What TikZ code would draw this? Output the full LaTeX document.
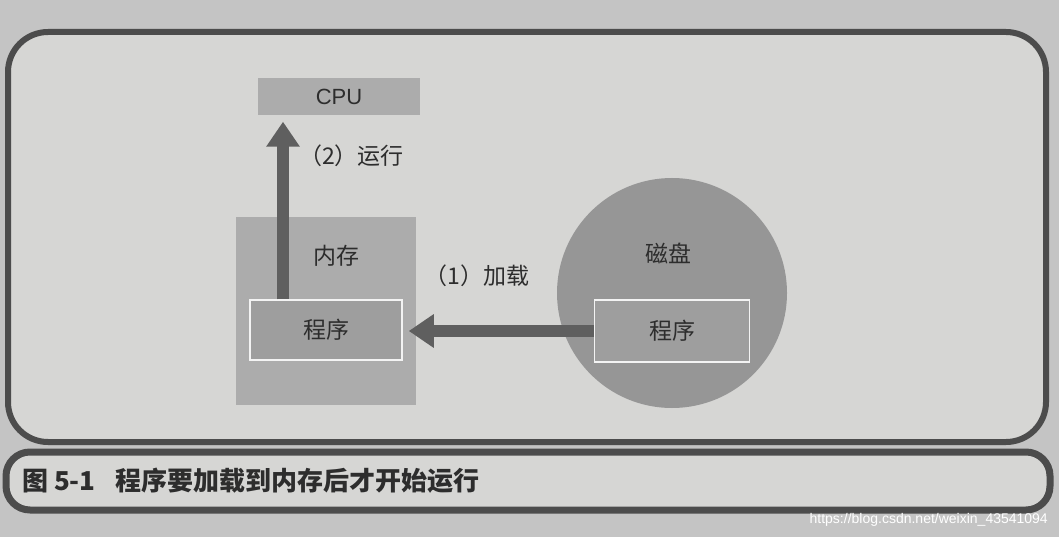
\documentclass[tikz,border=0pt]{standalone}
\usepackage{fontspec}
\setmainfont{Liberation Sans}
\newfontfamily\cjk{Noto Sans CJK SC}
\usetikzlibrary{arrows.meta}
\begin{document}
\begin{tikzpicture}[x=1pt, y=-1pt]

    \definecolor{pagegray}{RGB}{196,196,196}
    \definecolor{panelgray}{RGB}{214,214,212}
    \definecolor{boxgray}{RGB}{172,172,172}
    \definecolor{diskgray}{RGB}{150,150,150}
    \definecolor{arrowgray}{RGB}{95,95,95}
    \definecolor{inkgray}{RGB}{45,45,45}

    \tikzstyle{boxnode} = [fill=boxgray, inner sep=0, text=inkgray, font=\fontsize{23}{26}\selectfont\cjk];
    \tikzstyle{prognode} = [boxnode, draw=white!85!boxgray, line width=1.5, fill=boxgray!92!black];
    \tikzstyle{label} = [font=\fontsize{23}{26}\selectfont\cjk, text=inkgray, inner sep=0];
    \tikzstyle{arrow} = [draw=arrowgray, line width=12, -{Triangle[length=25, width=32]}, arrowgray];

    \useasboundingbox (0,0) rectangle (1059,537);
    \fill[pagegray] (0,0) rectangle (1059,537);

    % Panel and caption
    \draw[line width=6, draw=black!70, fill=panelgray, rounded corners=40] (8,32) rectangle (1046,442);
    \draw[line width=7, draw=black!70, fill=panelgray, rounded corners=24] (6,452) rectangle (1050,510);
    \node[anchor=west, font=\fontsize{26}{28}\selectfont\cjk\bfseries, text=inkgray, inner sep=0] (CAP) at (22,481)
        {图 5-1\hspace{20pt}程序要加载到内存后才开始运行};
    \node[anchor=east, font=\fontsize{14}{16}\selectfont, text=white, inner sep=0] (URL) at (1048,520)
        {https://blog.csdn.net/weixin\_43541094};

    % Left - CPU and memory
    \node[boxnode, minimum width=162, minimum height=37] (CPU) at (339,97) {\rmfamily\fontsize{22}{24}\selectfont CPU};
    \node[boxnode, minimum width=180, minimum height=188] (MEM) at (326,311) {};
    \node[label] (MEML) at (336,256) {内存};
    \node[prognode, minimum width=152, minimum height=60] (PM) at (326,330) {程序};

    % Right - disk
    \node[circle, fill=diskgray, minimum size=230, inner sep=0] (DISK) at (672,293) {};
    \node[label] (DISKL) at (668,253) {磁盘};
    \node[prognode, minimum width=155, minimum height=62] (PD) at (672,331) {程序};

    % Arrows
    \coordinate (RUNS) at ([xshift=-43pt]PM.north);
    \draw [arrow, shorten >=6pt] (RUNS) -- node[pos=0.78, anchor=west, xshift=10pt, label] (RUN) {（2）运行} (RUNS |- CPU.south);
    \draw [arrow] (PD.west) -- node[pos=0.63, anchor=south, yshift=38pt, label] (LOAD) {（1）加载} ([xshift=6pt]PM.east |- PD.west);

\end{tikzpicture}
\end{document}
